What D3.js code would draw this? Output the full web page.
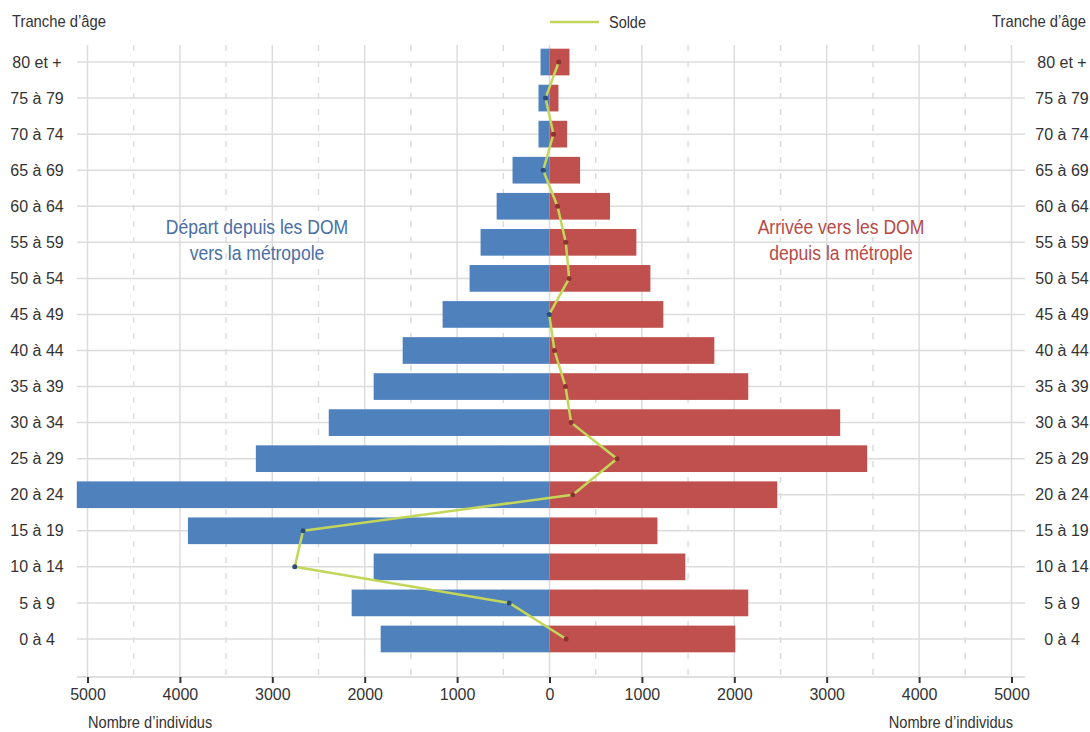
<!DOCTYPE html>
<html><head><meta charset="utf-8">
<script src="https://cdn.jsdelivr.net/npm/d3@7"></script>
<style>
body{margin:0;background:#fff;}
svg text{font-family:"Liberation Sans","Arial",sans-serif;fill:#333;}
</style></head><body>
<svg id="c" width="1090" height="732"></svg>
<script>
const categories = ["80 et +","75 à 79","70 à 74","65 à 69","60 à 64","55 à 59","50 à 54","45 à 49","40 à 44","35 à 39","30 à 34","25 à 29","20 à 24","15 à 19","10 à 14","5 à 9","0 à 4"];
const depart  = [97,119,119,400,572,746,865,1157,1589,1903,2389,3178,5116,3913,1903,2141,1827];
const arrivee = [216,97,191,331,655,940,1092,1232,1784,2151,3146,3438,2465,1168,1470,2151,2011];
const solde   = [100,-43,43,-68,86,176,213,-3,54,173,234,731,252,-2667,-2757,-436,180];
const xTicks = [-5000,-4000,-3000,-2000,-1000,0,1000,2000,3000,4000,5000];
const xMinorTicks = [-4500,-3500,-2500,-1500,-500,500,1500,2500,3500,4500];

const svg = d3.select("#c");
const x = d3.scaleLinear().domain([-5000,5000]).range([87.5,1011.5]);
const y = d3.scaleBand().domain(categories).range([44,657]).paddingInner(0.26).paddingOuter(0.13);
const yc = d => y(d) + y.bandwidth()/2;

function addText(px, py, str, anchor, sx, size, color){
  const t = svg.append("text")
    .attr("transform", `translate(${px},${py}) scale(${sx},1)`)
    .attr("text-anchor", anchor).attr("font-size", size).text(str);
  if (color) t.style("fill", color);
  return t;
}

const grid = svg.append("g");
grid.selectAll("line.v").data(xTicks).join("line")
  .attr("x1",d=>x(d)).attr("x2",d=>x(d)).attr("y1",45).attr("y2",677)
  .attr("stroke","#dcdcdc").attr("stroke-width",1.5);
grid.selectAll("line.vm").data(xMinorTicks).join("line")
  .attr("x1",d=>x(d)).attr("x2",d=>x(d)).attr("y1",45).attr("y2",677)
  .attr("stroke","#dcdcdc").attr("stroke-width",1.5).attr("stroke-dasharray","6,10");
grid.selectAll("line.h").data(categories).join("line")
  .attr("x1",77).attr("x2",1025).attr("y1",d=>yc(d)).attr("y2",d=>yc(d))
  .attr("stroke","#dcdcdc").attr("stroke-width",1.5);

svg.append("g").selectAll("rect").data(categories).join("rect")
  .attr("x",(d,i)=>x(-depart[i])).attr("y",d=>y(d))
  .attr("width",(d,i)=>x(0)-x(-depart[i])).attr("height",y.bandwidth())
  .attr("fill","#4f81bd");
svg.append("g").selectAll("rect").data(categories).join("rect")
  .attr("x",x(0)).attr("y",d=>y(d))
  .attr("width",(d,i)=>x(arrivee[i])-x(0)).attr("height",y.bandwidth())
  .attr("fill","#c0504d");

const axisG = svg.append("g").attr("transform","translate(0,677)");
axisG.append("line").attr("x1",77).attr("x2",1025).attr("y1",0).attr("y2",0)
  .attr("stroke","#d4d4d4").attr("stroke-width",1.5);
const ax = d3.axisBottom(x).tickValues(xTicks).tickFormat(d=>Math.abs(d)).tickSize(6).tickPadding(6);
axisG.call(ax);
axisG.select(".domain").remove();
axisG.selectAll(".tick line").attr("stroke","#333").attr("stroke-width",2);
axisG.selectAll(".tick text").attr("font-size",16).attr("fill","#333")
  .style("font-family","'Liberation Sans',sans-serif");

const line = d3.line().x(d=>x(d)).y((d,i)=>yc(categories[i]));
svg.append("path").datum(solde).attr("d",line).attr("fill","none")
  .attr("stroke","#c4d65a").attr("stroke-width",2.5).attr("stroke-linejoin","round");
svg.append("g").selectAll("circle").data(solde).join("circle")
  .attr("cx",d=>x(d)).attr("cy",(d,i)=>yc(categories[i])).attr("r",2.5)
  .attr("fill",d=>d<0?"#2c4d75":"#8c3231");

svg.append("g").selectAll("text").data(categories).join("text")
  .attr("x",37).attr("y",d=>yc(d)).attr("dy","0.35em").attr("text-anchor","middle")
  .attr("font-size",16).text(d=>d);
svg.append("g").selectAll("text").data(categories).join("text")
  .attr("x",1062).attr("y",d=>yc(d)).attr("dy","0.35em").attr("text-anchor","middle")
  .attr("font-size",16).text(d=>d);

addText(12, 27, "Tranche d’âge", "start", 0.87, 17);
addText(1086, 27, "Tranche d’âge", "end", 0.87, 17);
addText(88, 728, "Nombre d’individus", "start", 0.86, 17);
addText(1013, 728, "Nombre d’individus", "end", 0.86, 17);

svg.append("line").attr("x1",550).attr("x2",599).attr("y1",22).attr("y2",22)
  .attr("stroke","#c4d65a").attr("stroke-width",2.5);
addText(609, 27.5, "Solde", "start", 0.85, 17);

addText(257, 234, "Départ depuis les DOM", "middle", 0.9, 19.5, "#4a6fa5");
addText(257, 260, "vers la métropole", "middle", 0.9, 19.5, "#4a6fa5");
addText(841, 234, "Arrivée vers les DOM", "middle", 0.9, 19.5, "#b84a46");
addText(841, 260, "depuis la métrople", "middle", 0.9, 19.5, "#b84a46");
</script></body></html>
